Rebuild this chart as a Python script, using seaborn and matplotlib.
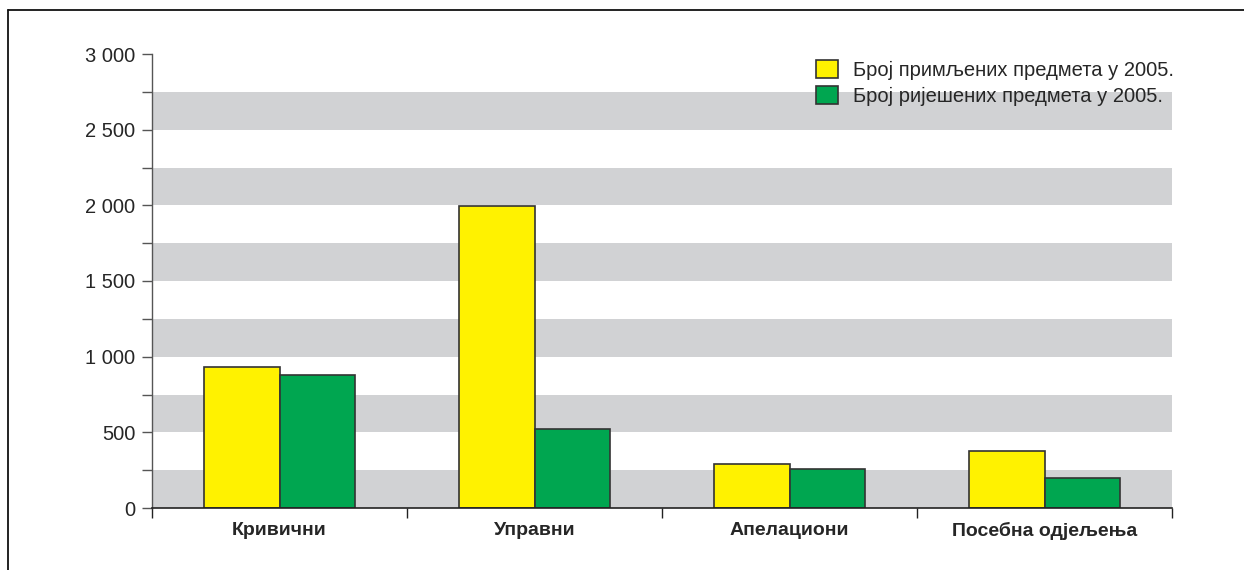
import pandas as pd
import matplotlib
matplotlib.use("Agg")
import matplotlib.pyplot as plt
from matplotlib.lines import Line2D
from matplotlib.ticker import FixedLocator, FuncFormatter
import seaborn as sns

# === Подаци ===
kategorije = ["Кривични", "Управни", "Апелациони", "Посебна одјељења"]
primljeni = [930, 1995, 292, 374]
rijeseni = [881, 523, 261, 197]
serije = ["Број примљених предмета у 2005.", "Број ријешених предмета у 2005."]
boje = ["#fff200", "#00a650"]

df = pd.DataFrame({
    "kategorija": kategorije * 2,
    "vrijednost": primljeni + rijeseni,
    "serija": [serije[0]] * 4 + [serije[1]] * 4,
})

sns.set_style("white")
plt.rcParams["font.family"] = ["Liberation Sans", "DejaVu Sans"]

fig = plt.figure(figsize=(12.44, 5.70), dpi=100)
ax = fig.add_axes([152 / 1244, 1 - 508 / 570, 1020 / 1244, 454 / 570])

# === Сиве траке ===
for y0 in range(0, 3000, 500):
    ax.axhspan(y0, y0 + 250, color="#d1d2d4", lw=0, zorder=0)

sns.barplot(data=df, x="kategorija", y="vrijednost", hue="serija",
            palette=boje, width=0.59, edgecolor="#333333", linewidth=1.2,
            saturation=1, ax=ax, zorder=2)

ax.set_xlim(-0.5, 3.5)
ax.set_ylim(0, 3000)
ax.set_xlabel("")
ax.set_ylabel("")

# === Осе ===
ax.yaxis.set_major_locator(FixedLocator(range(0, 3001, 500)))
ax.yaxis.set_minor_locator(FixedLocator(range(250, 3000, 500)))
ax.yaxis.set_major_formatter(FuncFormatter(lambda v, p: f"{int(v):,}".replace(",", " ")))
ax.tick_params(axis="y", which="both", left=True, direction="out", length=7, width=1,
               color="#555555", labelsize=14.5, pad=5)

ax.xaxis.set_major_locator(FixedLocator([-0.5, 0.5, 1.5, 2.5, 3.5]))
ax.xaxis.set_major_formatter(FuncFormatter(lambda v, p: ""))
ax.xaxis.set_minor_locator(FixedLocator([0, 1, 2, 3]))
ax.set_xticklabels(kategorije, minor=True, fontweight="bold", fontsize=14)
ax.tick_params(axis="x", which="major", bottom=True, direction="out", length=7, width=1,
               color="#222222")
ax.tick_params(axis="x", which="minor", bottom=True, length=0, pad=10)

for s in ["top", "right"]:
    ax.spines[s].set_visible(False)
ax.spines["left"].set_color("#555555")
ax.spines["bottom"].set_color("#222222")
ax.spines["left"].set_linewidth(1)
ax.spines["bottom"].set_linewidth(1.2)

# === Легенда ===
leg = ax.legend(loc="upper left", bbox_to_anchor=(0.643, 1.005), frameon=False,
                fontsize=14.5, handlelength=1.1, handleheight=1.0,
                handletextpad=0.75, labelspacing=0.3, borderaxespad=0)
for h in leg.legend_handles:
    h.set_edgecolor("#333333")

# === Оквир ===
fig.add_artist(Line2D([8 / 1244, 1], [1 - 10 / 570, 1 - 10 / 570], color="#111111", lw=1.3))
fig.add_artist(Line2D([8 / 1244, 8 / 1244], [0, 1 - 10 / 570], color="#111111", lw=1.3))

fig.savefig("out.png", dpi=100)
